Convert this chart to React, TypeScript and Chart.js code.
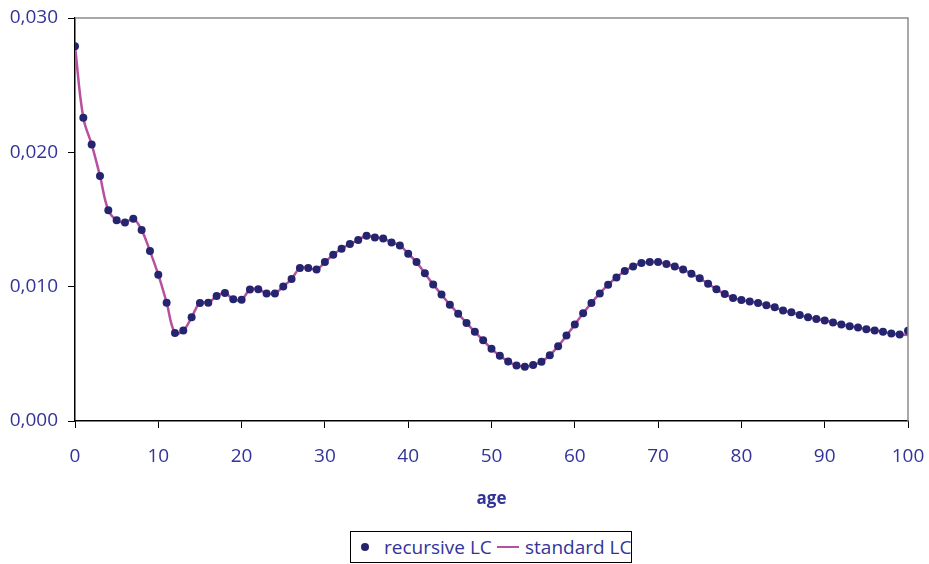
import React, { useEffect, useRef } from "react";
import { Chart, registerables } from "chart.js";

Chart.register(...registerables);

const ages: number[] = Array.from({ length: 101 }, (_, i) => i);

const recursiveLC: number[] = [
  0.02789, 0.02257, 0.02059, 0.01824, 0.01569, 0.01495, 0.01477, 0.01505, 0.01421, 0.01265,
  0.01089, 0.00881, 0.00656, 0.00673, 0.00772, 0.00879, 0.00881, 0.00930, 0.00953, 0.00906,
  0.00903, 0.00978, 0.00980, 0.00950, 0.00950, 0.01002, 0.01057, 0.01139, 0.01139, 0.01128,
  0.01183, 0.01238, 0.01282, 0.01317, 0.01347, 0.01379, 0.01366, 0.01359, 0.01329, 0.01307,
  0.01245, 0.01183, 0.01099, 0.01017, 0.00941, 0.00866, 0.00798, 0.00730, 0.00664, 0.00601,
  0.00537, 0.00485, 0.00443, 0.00414, 0.00404, 0.00416, 0.00441, 0.00490, 0.00557, 0.00636,
  0.00718, 0.00802, 0.00879, 0.00950, 0.01015, 0.01069, 0.01117, 0.01151, 0.01176, 0.01183,
  0.01183, 0.01169, 0.01151, 0.01127, 0.01097, 0.01062, 0.01022, 0.00980, 0.00946, 0.00916,
  0.00901, 0.00889, 0.00879, 0.00861, 0.00846, 0.00822, 0.00809, 0.00790, 0.00772, 0.00760,
  0.00748, 0.00733, 0.00718, 0.00705, 0.00696, 0.00683, 0.00673, 0.00664, 0.00651, 0.00644,
  0.00671,
];

const standardLC: number[] = [
  0.02789, 0.02257, 0.02059, 0.01824, 0.01569, 0.01495, 0.01477, 0.01505, 0.01421, 0.01265,
  0.01089, 0.00881, 0.00656, 0.00673, 0.00772, 0.00879, 0.00881, 0.00930, 0.00953, 0.00906,
  0.00903, 0.00978, 0.00980, 0.00950, 0.00950, 0.01002, 0.01057, 0.01139, 0.01139, 0.01128,
  0.01183, 0.01238, 0.01282, 0.01317, 0.01347, 0.01379, 0.01366, 0.01359, 0.01329, 0.01307,
  0.01245, 0.01183, 0.01099, 0.01017, 0.00941, 0.00866, 0.00798, 0.00730, 0.00664, 0.00601,
  0.00537, 0.00485, 0.00443, 0.00414, 0.00404, 0.00416, 0.00441, 0.00490, 0.00557, 0.00636,
  0.00718, 0.00802, 0.00879, 0.00950, 0.01015, 0.01069, 0.01117, 0.01151, 0.01176, 0.01183,
  0.01183, 0.01169, 0.01151, 0.01127, 0.01097, 0.01062, 0.01022, 0.00980, 0.00946, 0.00916,
  0.00901, 0.00889, 0.00879, 0.00861, 0.00846, 0.00822, 0.00809, 0.00790, 0.00772, 0.00760,
  0.00748, 0.00733, 0.00718, 0.00705, 0.00696, 0.00683, 0.00673, 0.00664, 0.00651, 0.00644,
  0.00640,
];

const seriesNames: string[] = ["recursive LC", "standard LC"];
const xTitle = "age";

const TEXT_COLOR = "#333399";
const POINT_COLOR = "#25256f";
const LINE_COLOR = "#b84fa0";
const FONT = "'Open Sans', sans-serif";

const framePlugin = {
  id: "frame",
  afterDraw(chart: any) {
    const { ctx, chartArea } = chart;
    ctx.save();
    ctx.strokeStyle = "#8c8c8c";
    ctx.lineWidth = 1.5;
    ctx.beginPath();
    ctx.moveTo(chartArea.left, chartArea.top);
    ctx.lineTo(chartArea.right, chartArea.top);
    ctx.lineTo(chartArea.right, chartArea.bottom);
    ctx.stroke();
    ctx.restore();
  },
};

export default function App() {
  const canvasRef = useRef<HTMLCanvasElement | null>(null);

  useEffect(() => {
    if (!canvasRef.current) return;
    const chart = new Chart(canvasRef.current, {
      type: "line",
      data: {
        datasets: [
          {
            label: seriesNames[0],
            data: ages.map((a, i) => ({ x: a, y: recursiveLC[i] })),
            showLine: false,
            pointRadius: 4,
            pointBackgroundColor: POINT_COLOR,
            pointBorderColor: POINT_COLOR,
            pointBorderWidth: 0,
            order: 0,
          },
          {
            label: seriesNames[1],
            data: ages.map((a, i) => ({ x: a, y: standardLC[i] })),
            borderColor: LINE_COLOR,
            borderWidth: 2.5,
            pointRadius: 0,
            tension: 0.4,
            order: 1,
          },
        ],
      },
      options: {
        animation: false,
        responsive: false,
        layout: { padding: { left: 0, right: 21, top: 18, bottom: 0 } },
        plugins: {
          legend: { display: false },
          tooltip: { enabled: false },
        },
        scales: {
          x: {
            type: "linear",
            min: 0,
            max: 100,
            ticks: {
              stepSize: 10,
              color: TEXT_COLOR,
              font: { family: FONT, size: 19 },
              padding: 17,
              maxRotation: 0,
            },
            grid: {
              drawOnChartArea: false,
              drawTicks: true,
              tickLength: 7,
              color: "#000",
            },
            border: { color: "#000", width: 1.5 },
            title: {
              display: true,
              text: xTitle,
              color: TEXT_COLOR,
              font: { family: FONT, size: 17, weight: "bold" },
              padding: { top: 0, bottom: 55 },
            },
            afterFit(scale: any) {
              scale.height = 143;
              scale.paddingLeft = 0;
              scale.paddingRight = 0;
            },
          },
          y: {
            type: "linear",
            min: 0,
            max: 0.03,
            ticks: {
              stepSize: 0.01,
              color: TEXT_COLOR,
              font: { family: FONT, size: 19 },
              padding: 10,
              callback: (v: any) => Number(v).toFixed(3).replace(".", ","),
            },
            grid: {
              drawOnChartArea: false,
              drawTicks: true,
              tickLength: 7,
              color: "#000",
            },
            border: { color: "#000", width: 1.5 },
            afterFit(scale: any) {
              scale.width = 75;
              scale.paddingTop = 0;
              scale.paddingBottom = 0;
            },
          },
        },
      },
      plugins: [framePlugin],
    });
    return () => chart.destroy();
  }, []);

  return (
    <div style={{ position: "fixed", left: 0, top: 0, width: 929, height: 564, background: "#fff" }}>
      <canvas ref={canvasRef} width={929} height={564} style={{ display: "block" }} />
      <div
        style={{
          position: "absolute",
          left: 350,
          top: 531,
          width: 282,
          height: 32,
          border: "1px solid #000",
          boxSizing: "border-box",
          fontFamily: FONT,
          fontSize: 19,
          color: TEXT_COLOR,
          background: "#fff",
        }}
      >
        <span
          style={{
            position: "absolute",
            left: 10,
            top: 11,
            width: 8,
            height: 8,
            borderRadius: "50%",
            background: POINT_COLOR,
          }}
        />
        <span style={{ position: "absolute", left: 33, top: 0, lineHeight: "30px", whiteSpace: "nowrap" }}>
          {seriesNames[0]}
        </span>
        <span
          style={{
            position: "absolute",
            left: 146,
            top: 14,
            width: 22,
            height: 2,
            background: LINE_COLOR,
          }}
        />
        <span style={{ position: "absolute", left: 174, top: 0, lineHeight: "30px", whiteSpace: "nowrap" }}>
          {seriesNames[1]}
        </span>
      </div>
    </div>
  );
}
